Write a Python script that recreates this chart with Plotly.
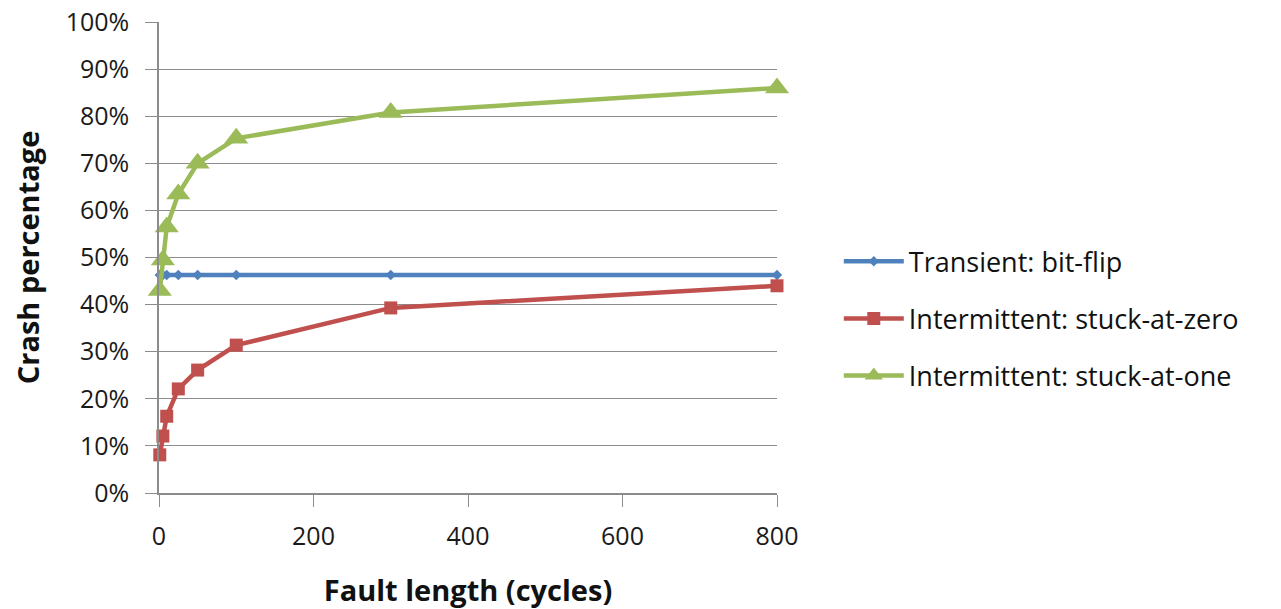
import plotly.graph_objects as go

fault_length = [1, 5, 10, 25, 50, 100, 300, 800]
transient_bitflip = [46.3, 46.3, 46.3, 46.3, 46.3, 46.3, 46.3, 46.3]
stuck_at_zero = [8.1, 12.1, 16.3, 22.1, 26.1, 31.4, 39.3, 44.0]
stuck_at_one = [43.0, 49.5, 56.5, 63.5, 70.0, 75.3, 80.8, 86.0]
y_ticks = [0, 10, 20, 30, 40, 50, 60, 70, 80, 90, 100]
x_ticks = [0, 200, 400, 600, 800]

FONT = "Open Sans"
fig = go.Figure()

series = [
    ("Transient: bit-flip", transient_bitflip, "#4F81BD", "diamond", 8),
    ("Intermittent: stuck-at-zero", stuck_at_zero, "#C0504D", "square", 13),
    ("Intermittent: stuck-at-one", stuck_at_one, "#9BBB59", "triangle-up", 21),
]
for i, (name, vals, color, sym, size) in enumerate(series):
    fig.add_trace(go.Scatter(
        x=fault_length, y=vals, name=name, mode="lines+markers",
        line=dict(color=color, width=4.5),
        marker=dict(symbol=sym, size=size, color=color),
        cliponaxis=False, legendgroup=f"g{i}",
    ))

# the page body adds an 8px offset, so margins are reduced by 8px
fig.update_layout(
    width=1281, height=609,
    margin=dict(l=151, r=512, t=14, b=124, autoexpand=False),
    paper_bgcolor="white", plot_bgcolor="white",
    font=dict(family=FONT, size=25, color="#1a1a1a"),
    showlegend=True,
    legend=dict(x=1.1, y=0.37, xanchor="left", yanchor="middle",
                font=dict(family=FONT, size=27, color="#111"),
                tracegroupgap=19, traceorder="grouped", itemwidth=60),
    xaxis=dict(range=[0, 800], tickvals=x_ticks, showgrid=False, automargin=False,
               showline=True, linecolor="#8c8c8c", linewidth=1.5,
               ticks="outside", ticklen=12, tickcolor="#8c8c8c", zeroline=False,
               ticklabelstandoff=8, ticklabeloverflow="allow",
               title=dict(text="<b>Fault length (cycles)</b>", standoff=30,
                          font=dict(family=FONT, size=29, color="#111"))),
    yaxis=dict(range=[0, 100.01], tickvals=y_ticks, automargin=False,
               ticktext=[f"{v}%" for v in y_ticks],
               showgrid=True, gridcolor="#8c8c8c", gridwidth=1,
               showline=True, linecolor="#8c8c8c", linewidth=1.5,
               ticks="outside", ticklen=12, tickcolor="#8c8c8c", zeroline=False,
               ticklabelstandoff=11, ticklabeloverflow="allow",
               title=dict(text="<b>Crash percentage</b>", standoff=32,
                          font=dict(family=FONT, size=29, color="#111"))),
)

fig.write_html("out.html")
